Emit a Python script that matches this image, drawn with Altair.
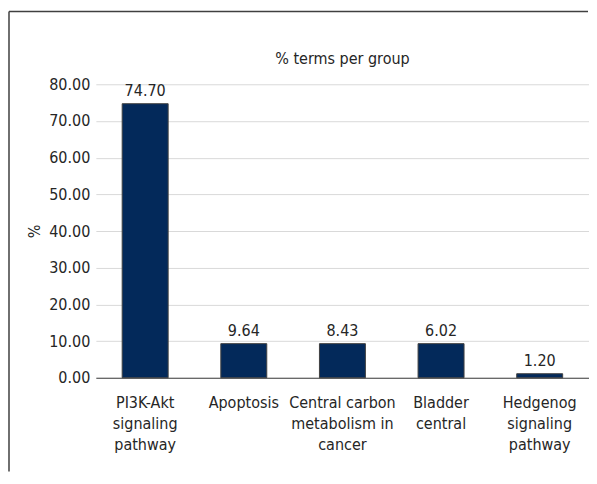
import altair as alt
import pandas as pd

# ---- data ----
label_lines = [
    ["PI3K-Akt", "signaling", "pathway"],
    ["Apoptosis"],
    ["Central carbon", "metabolism in", "cancer"],
    ["Bladder", "central"],
    ["Hedgenog", "signaling", "pathway"],
]
bar_heights = [74.70, 9.3, 9.3, 9.3, 1.1]          # heights as drawn
value_labels = ["74.70", "9.64", "8.43", "6.02", "1.20"]  # printed labels
y_ticks = [0, 10, 20, 30, 40, 50, 60, 70, 80]

categories = ["|".join(l) for l in label_lines]
df = pd.DataFrame({"category": categories, "value": bar_heights, "label": value_labels})

FONT = "DejaVu Sans Condensed"
FS = 16
TEXT = "#262626"
BAR = "#03295a"

x_enc = alt.X(
    "category:N",
    sort=categories,
    title=None,
    scale=alt.Scale(paddingInner=0.534, paddingOuter=0.267),
    axis=alt.Axis(
        labelExpr="split(datum.label, '|')",
        labelAngle=0,
        labelFont=FONT,
        labelFontSize=FS,
        labelColor=TEXT,
        labelLineHeight=21,
        labelBaseline="top",
        labelPadding=17,
        labelLimit=300,
        labelOverlap=False,
        ticks=False,
        domainColor="#404040",
        domainWidth=1,
        grid=False,
    ),
)

y_enc = alt.Y(
    "value:Q",
    title="%",
    scale=alt.Scale(domain=[0, 80], nice=False),
    axis=alt.Axis(
        values=y_ticks,
        tickCount=9,
        format=".2f",
        labelFont=FONT,
        labelFontSize=FS,
        labelColor=TEXT,
        labelPadding=6,
        labelOverlap=False,
        ticks=False,
        domain=False,
        grid=True,
        gridColor="#d9d9d9",
        gridWidth=1,
        titleFont=FONT,
        titleFontSize=FS,
        titleFontWeight="normal",
        titleColor=TEXT,
        titlePadding=6,
    ),
)

base = alt.Chart(df).encode(x=x_enc, y=y_enc)

bars = base.mark_bar(color=BAR, stroke="#404040", strokeWidth=1)

labels = base.mark_text(
    font=FONT, fontSize=FS, color=TEXT, baseline="alphabetic", dy=-8
).encode(text="label:N")

frame_data = alt.Data(values=[{"k": 0}])
frame_left = alt.Chart(frame_data).mark_rule(color="#404040", strokeWidth=1.5).encode(
    x=alt.value(-87), y=alt.value(-73), y2=alt.value(388)
)
frame_top = alt.Chart(frame_data).mark_rule(color="#404040", strokeWidth=1.5).encode(
    x=alt.value(-87), x2=alt.value(493), y=alt.value(-73)
)

chart = (
    alt.layer(bars, labels, frame_left, frame_top)
    .properties(
        width=494,
        height=294,
        padding={"left": 0, "top": 2, "right": 0, "bottom": 0},
        title=alt.Title(
            "% terms per group",
            font=FONT,
            fontSize=FS,
            fontWeight="normal",
            color=TEXT,
            offset=-56,
            frame="group",
        ),
    )
    .configure_view(stroke=None)
)

chart.save("out.html", embed_options={"renderer": "svg", "actions": False})
